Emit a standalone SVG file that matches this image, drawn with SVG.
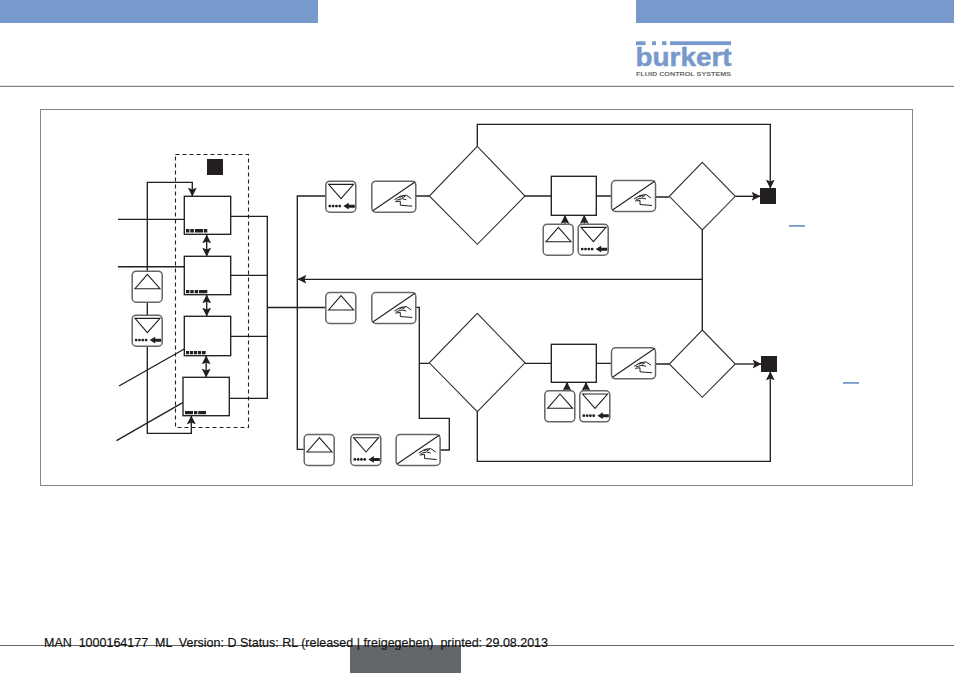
<svg xmlns="http://www.w3.org/2000/svg" xmlns:xlink="http://www.w3.org/1999/xlink" width="954" height="673" viewBox="0 0 954 673">
<style>
.ln{fill:none;stroke:#231f20;stroke-width:1.35}
.box{fill:#fff;stroke:#231f20;stroke-width:1.35}
.dia{fill:#fff;stroke:#333;stroke-width:1.1}
.btn{fill:#fff;stroke:#666;stroke-width:1.5}
.tri{fill:#fff;stroke:#231f20;stroke-width:1.1}
.blk{fill:#231f20}
.blue{fill:#7899cb}
text{font-family:"Liberation Sans",Arial,sans-serif;white-space:pre}
</style>
<defs>
<marker id="ah" viewBox="0 0 8 8" refX="7.5" refY="4" markerWidth="9" markerHeight="9" markerUnits="userSpaceOnUse" orient="auto-start-reverse"><path d="M0 0L8 4L0 8L1.8 4Z" fill="#231f20"/></marker>
<g id="up"><rect class="btn" x=".5" y=".5" width="30" height="31" rx="4"/><path class="tri" d="M15.7 3.7L28.3 18H3.3Z"/></g>
<g id="down"><rect class="btn" x=".5" y=".5" width="30" height="31" rx="4"/><path class="tri" d="M3.3 3.7H28.3L15.7 18Z"/><g class="blk"><circle cx="4.5" cy="25.4" r="1.4"/><circle cx="7.8" cy="25.4" r="1.4"/><circle cx="11.1" cy="25.4" r="1.4"/><circle cx="14.4" cy="25.4" r="1.4"/><path d="M18 25.4L23.5 22V24H29.5V27H23.5V28.8Z"/></g></g>
<g id="hand"><rect class="btn" x=".5" y=".5" width="44" height="31" rx="4"/><path class="ln" style="stroke-width:1.1" d="M1.5 30L44 1"/><path fill="none" stroke="#231f20" stroke-width="1" d="M23 19L29 15.5L35 14.5L40 18M25 19.5L31 18L35 19M24 21L29 20.5L29 24.5L41 25.5M31 17L34 15.5M28 17L32 15"/></g>
</defs>
<rect width="954" height="673" fill="#fff"/>
<g id="header">
<rect class="blue" x="0" y="0" width="318" height="23"/>
<rect class="blue" x="636" y="0" width="318" height="23"/>
<rect x="0" y="85.8" width="954" height="1" fill="#666"/>
</g>
<g id="logo">
<text x="635.5" y="66" font-size="26" font-weight="700" fill="#7899cb" stroke="#7899cb" stroke-width=".5" textLength="96" lengthAdjust="spacingAndGlyphs">bürkert</text>
<rect x="651" y="45.2" width="18" height="6" fill="#fff"/>
<rect class="blue" x="636" y="41.3" width="9.5" height="3.8"/>
<rect class="blue" x="652" y="41.3" width="4" height="3.8"/>
<rect class="blue" x="662" y="41.3" width="4.5" height="3.8"/>
<rect class="blue" x="670" y="41.3" width="61" height="3.8"/>
<text x="636" y="76" font-size="6" font-weight="700" fill="#666" textLength="95" lengthAdjust="spacingAndGlyphs">FLUID CONTROL SYSTEMS</text>
</g>
<rect id="frame" x="40.5" y="109.5" width="872" height="376" fill="none" stroke="#888" stroke-width="1"/>
<g id="connectors">
<path class="ln" d="M118 219.3H184M118 266.7H184M119 386L186 348M116.5 440.7L182.7 402.7"/>
<path class="ln" marker-end="url(#ah)" d="M147.3 271V182.3H192.3V196"/>
<path class="ln" d="M147.3 302V315"/>
<path class="ln" marker-end="url(#ah)" d="M147.3 346V433.3H191.3V416"/>
<path class="ln" marker-start="url(#ah)" marker-end="url(#ah)" d="M206.7 235V256"/>
<path class="ln" marker-start="url(#ah)" marker-end="url(#ah)" d="M206.7 295V316"/>
<path class="ln" marker-start="url(#ah)" marker-end="url(#ah)" d="M206.2 356V377"/>
<path class="ln" d="M231 216.3H267.3V398.3H229.3M231 275.3H267.3M231 336.3H267.3M267.3 307.5H325.3"/>
<path class="ln" d="M325.3 196H297.3V449.3H303.7"/>
<path class="ln" d="M416 196H429.3M525 196H551.3M596.3 196H611M656 197H669.3"/>
<path class="ln" marker-end="url(#ah)" d="M477.3 146.3V124.3H770.3V188"/>
<path class="ln" marker-end="url(#ah)" d="M735.3 196.3H760"/>
<path class="ln" marker-end="url(#ah)" d="M565 223.7V215.5"/>
<path class="ln" marker-end="url(#ah)" d="M584.3 223.7V215.5"/>
<path class="ln" d="M702.3 230V330"/>
<path class="ln" marker-end="url(#ah)" d="M702.3 279.3H298"/>
<path class="ln" d="M416 307.3H419.3V418.3H449.3V450H440.3M419.3 363.3H429.3"/>
<path class="ln" d="M525 363.3H551.3M596.3 363.3H611M656 364H669.3"/>
<path class="ln" marker-end="url(#ah)" d="M477.3 411.7V461.3H770.3V372"/>
<path class="ln" marker-end="url(#ah)" d="M735.3 364H761"/>
<path class="ln" marker-end="url(#ah)" d="M567 390.3V382.5"/>
<path class="ln" marker-end="url(#ah)" d="M586 390.3V382.5"/>
</g>
<rect id="group" x="175.5" y="154.5" width="73" height="273" fill="none" stroke="#231f20" stroke-width="1.1" stroke-dasharray="4 3"/>
<rect id="groupMark" class="blk" x="207" y="159" width="16" height="16"/>
<g id="screen1"><rect class="box" x="184.3" y="196.3" width="46.4" height="38"/><path class="blk" d="M186 229h3.4v3.5H186zM190.3 229h3.6v3.5h-3.6zM195 229h8.2v3.5H195zM204 229h3.3v3.5H204z"/></g>
<g id="screen2"><rect class="box" x="184.3" y="256.3" width="46.4" height="38.4"/><path class="blk" d="M186 290h3.4v3.2H186zM190.3 290h3.4v3.2h-3.4zM194.7 290h3.4v3.2h-3.4zM199 290h8.3v3.2H199z"/></g>
<g id="screen3"><rect class="box" x="184.3" y="316.3" width="46.4" height="39.4"/><path class="blk" d="M186 351h3.2v3.2H186zM190 351h3.2v3.2H190zM194 351h3.2v3.2H194zM198 351h3.2v3.2H198zM202 351h3.6v3.2H202z"/></g>
<g id="screen4"><rect class="box" x="183" y="377.3" width="46.3" height="38.4"/><path class="blk" d="M185 411h8v3.2H185zM194 411h3.4v3.2H194zM198.3 411h7.7v3.2H198.3z"/></g>
<use id="btnUpLeft" href="#up" x="131.7" y="270.7"/>
<use id="btnDownLeft" href="#down" x="131.7" y="314.7"/>
<use id="btnDownTop" href="#down" x="325.3" y="180.7"/>
<use id="btnHandTop" href="#hand" x="371.3" y="180.7"/>
<use id="btnUpMid" href="#up" x="325.3" y="292"/>
<use id="btnHandMid" href="#hand" x="371.3" y="292"/>
<use id="btnUpBot" href="#up" x="303.7" y="434"/>
<use id="btnDownBot" href="#down" x="350.3" y="434"/>
<use id="btnHandBot" href="#hand" x="395.6" y="434"/>
<g id="decision1"><path class="dia" d="M477.3 146.3L525 196L477.3 244.3L429.3 196Z"/></g>
<g id="decision2"><path class="dia" d="M477.3 313.3L525 362.8L477.3 411.7L429.3 362.8Z"/></g>
<g id="decision3"><path class="dia" d="M702.3 162.3L735.3 196.3L702.3 230L669.3 196.3Z"/></g>
<g id="decision4"><path class="dia" d="M702.3 330L735.3 364L702.3 397.3L669.3 364Z"/></g>
<g id="value1"><rect class="box" x="551.3" y="176.3" width="45" height="39"/></g>
<g id="value2"><rect class="box" x="551.3" y="344.3" width="45" height="38"/></g>
<use id="btnUpV1" href="#up" x="542.7" y="223.7"/>
<use id="btnDownV1" href="#down" x="577.7" y="223.7"/>
<use id="btnHandV1" href="#hand" x="611" y="180"/>
<use id="btnUpV2" href="#up" x="544.3" y="390.3"/>
<use id="btnDownV2" href="#down" x="579.3" y="390.3"/>
<use id="btnHandV2" href="#hand" x="611" y="347.3"/>
<g id="end1"><rect class="blk" x="760" y="188" width="16" height="16"/></g>
<g id="end2"><rect class="blk" x="761" y="356" width="16" height="16"/></g>
<rect class="blue" x="789" y="225" width="16" height="1.8"/>
<rect class="blue" x="843" y="382" width="16" height="1.8"/>
<g id="footer">
<rect x="0" y="645" width="954" height="1" fill="#666"/>
<rect x="350" y="645" width="111" height="28" fill="#63666a"/>
<text x="44" y="646.5" font-size="12.2" fill="#111" stroke="#111" stroke-width=".15" textLength="504" lengthAdjust="spacingAndGlyphs">MAN  1000164177  ML  Version: D Status: RL (released | freigegeben)  printed: 29.08.2013</text>
</g>
</svg>
